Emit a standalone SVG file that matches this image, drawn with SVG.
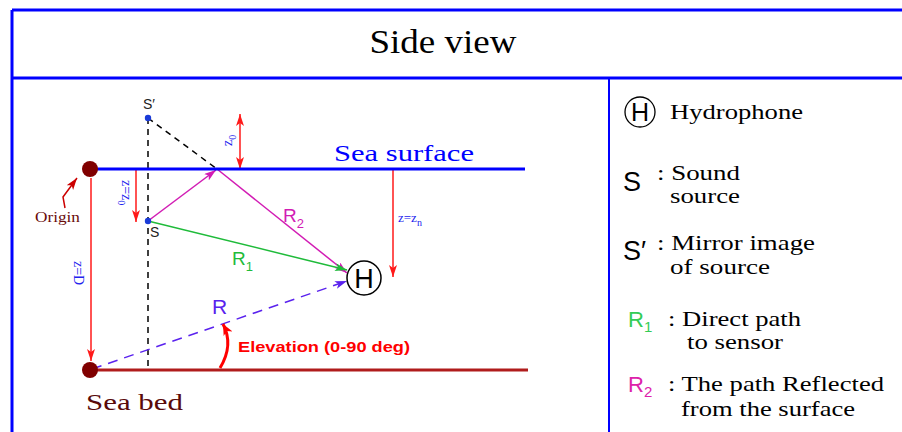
<svg xmlns="http://www.w3.org/2000/svg" width="902" height="432" viewBox="0 0 902 432">
<style>
.frame{stroke:#0000ff;fill:none}
.serif{font-family:"Liberation Serif","Times New Roman",serif}
.sans{font-family:"Liberation Sans",Arial,sans-serif}
.red{stroke:#ff1a1a;fill:none;stroke-width:1.5}
</style>
<defs>
<marker id="ar" markerUnits="userSpaceOnUse" markerWidth="14" markerHeight="10" refX="12" refY="4" orient="auto-start-reverse"><path d="M0,0 L12,4 L0,8 L3,4 z" fill="#ff1a1a"/></marker>
<marker id="ar2" markerUnits="userSpaceOnUse" markerWidth="14" markerHeight="12" refX="11" refY="5" orient="auto"><path d="M0,0 L11,5 L0,10 L3,5 z" fill="#ff0000"/></marker>
<marker id="am" markerUnits="userSpaceOnUse" markerWidth="14" markerHeight="10" refX="12" refY="4" orient="auto"><path d="M0,0 L12,4 L0,8 L3,4 z" fill="#d21cb4"/></marker>
<marker id="ag" markerUnits="userSpaceOnUse" markerWidth="14" markerHeight="10" refX="12" refY="4" orient="auto"><path d="M0,0 L12,4 L0,8 L3,4 z" fill="#1fbb3a"/></marker>
<marker id="av" markerUnits="userSpaceOnUse" markerWidth="14" markerHeight="10" refX="12" refY="4" orient="auto"><path d="M0,0 L12,4 L0,8 L3,4 z" fill="#5a22ee"/></marker>
<marker id="ao" markerUnits="userSpaceOnUse" markerWidth="14" markerHeight="10" refX="12" refY="4" orient="auto"><path d="M0,0 L12,4 L0,8 L3,4 z" fill="#cc0000"/></marker>
</defs>

<g id="frame">
<line class="frame" x1="12" y1="10" x2="902" y2="10" stroke-width="3"/>
<line class="frame" x1="12" y1="10" x2="12" y2="432" stroke-width="3"/>
<line class="frame" x1="12" y1="78" x2="902" y2="78" stroke-width="3"/>
<line class="frame" x1="609" y1="78" x2="609" y2="432" stroke-width="2"/>
<text class="serif" x="443" y="53" font-size="33" text-anchor="middle" textLength="147" lengthAdjust="spacingAndGlyphs">Side view</text>
</g>

<g id="connectors">
<line x1="148" y1="118" x2="148" y2="370" stroke="#000" stroke-width="1.5" stroke-dasharray="6,5"/>
<line x1="148" y1="118" x2="217" y2="169" stroke="#000" stroke-width="1.5" stroke-dasharray="6,5"/>
<line x1="148" y1="221" x2="216" y2="170" stroke="#d21cb4" stroke-width="1.5" marker-end="url(#am)"/>
<line x1="217" y1="169" x2="347" y2="273" stroke="#d21cb4" stroke-width="1.5" marker-end="url(#am)"/>
<line x1="148" y1="221" x2="347" y2="270" stroke="#1fbb3a" stroke-width="1.5" marker-end="url(#ag)"/>
<line x1="92" y1="369" x2="347" y2="281" stroke="#5a22ee" stroke-width="1.5" stroke-dasharray="10,7" marker-end="url(#av)"/>
<line class="red" x1="91" y1="178" x2="91" y2="361" marker-end="url(#ar)"/>
<line class="red" x1="136" y1="169" x2="136" y2="222" marker-end="url(#ar)"/>
<line class="red" x1="240" y1="114" x2="240" y2="169" marker-start="url(#ar)" marker-end="url(#ar)"/>
<line class="red" x1="393" y1="169" x2="393" y2="277" marker-end="url(#ar)"/>
<path d="M220,368 Q234,345 223,324" stroke="#ff0000" stroke-width="3" fill="none" marker-end="url(#ar2)"/>
<path d="M65,208 L63,197 L77,178" stroke="#cc0000" stroke-width="1.5" fill="none" marker-end="url(#ao)"/>
</g>

<g id="sea-surface">
<line x1="90" y1="169" x2="525" y2="169" stroke="#0000ff" stroke-width="3"/>
<text class="serif" x="334" y="161" font-size="24" fill="#0000ff" textLength="140" lengthAdjust="spacingAndGlyphs">Sea surface</text>
</g>

<g id="sea-bed">
<line x1="90" y1="370" x2="528" y2="370" stroke="#b01c1c" stroke-width="3"/>
<text class="serif" x="86" y="410" font-size="24" fill="#5a0a0a" textLength="97" lengthAdjust="spacingAndGlyphs">Sea bed</text>
</g>

<g id="origin">
<circle cx="90" cy="169" r="8" fill="#800000"/>
<text class="serif" x="35" y="222" font-size="14" fill="#6a0a0a" textLength="45" lengthAdjust="spacingAndGlyphs">Origin</text>
</g>

<g id="seabed-point">
<circle cx="90" cy="370" r="8" fill="#800000"/>
</g>

<g id="source-mirror">
<circle cx="148" cy="118" r="3.2" fill="#1a3bd8"/>
<text class="sans" x="143" y="109" font-size="14" fill="#222">S′</text>
</g>

<g id="source">
<circle cx="148" cy="221" r="3.2" fill="#1a3bd8"/>
<text class="sans" x="150" y="237" font-size="14" fill="#222">S</text>
</g>

<g id="hydrophone">
<circle cx="364" cy="278" r="17" fill="#fff" stroke="#000" stroke-width="1.5"/>
<text class="sans" x="364" y="288" font-size="27" text-anchor="middle" fill="#000">H</text>
</g>

<g id="labels">
<text class="sans" x="283" y="222" font-size="19" fill="#d21cb4">R<tspan font-size="13" dy="6">2</tspan></text>
<text class="sans" x="232" y="265" font-size="19" fill="#1fbb3a">R<tspan font-size="13" dy="6">1</tspan></text>
<text class="sans" x="212" y="314" font-size="21" fill="#5a22ee">R</text>
<text class="sans" x="238" y="352" font-size="15" font-weight="bold" fill="#ff0000" textLength="172" lengthAdjust="spacingAndGlyphs">Elevation (0-90 deg)</text>
<text class="serif" x="398" y="222" font-size="13" fill="#2222ee">z=z<tspan font-size="10" dy="4">n</tspan></text>
<text class="serif" transform="translate(74,261) rotate(90)" font-size="14" fill="#2222ee">z=D</text>
<text class="serif" transform="translate(122,180) rotate(90)" font-size="14" fill="#2222ee">z=z<tspan font-size="10" dy="4">0</tspan></text>
<text class="serif" transform="translate(232,146) rotate(-90)" font-size="14" fill="#2222ee">z<tspan font-size="10" dy="4">0</tspan></text>
</g>

<g id="legend">
<circle cx="640" cy="112" r="15" fill="none" stroke="#000" stroke-width="1.3"/>
<text class="sans" x="640" y="121" font-size="25" text-anchor="middle">H</text>
<text class="serif" x="670" y="119" font-size="22" textLength="133" lengthAdjust="spacingAndGlyphs">Hydrophone</text>

<text class="sans" x="623" y="191" font-size="27">S</text>
<text class="serif" x="657" y="180" font-size="22" textLength="83" lengthAdjust="spacingAndGlyphs">: Sound</text>
<text class="serif" x="670" y="203" font-size="22" textLength="70" lengthAdjust="spacingAndGlyphs">source</text>

<text class="sans" x="623" y="260" font-size="27">S′</text>
<text class="serif" x="657" y="250" font-size="22" textLength="158" lengthAdjust="spacingAndGlyphs">: Mirror image</text>
<text class="serif" x="670" y="274" font-size="22" textLength="100" lengthAdjust="spacingAndGlyphs">of source</text>

<text class="sans" x="628" y="327" font-size="22" fill="#33cc55">R<tspan font-size="15" dy="5">1</tspan></text>
<text class="serif" x="668" y="326" font-size="22" textLength="133" lengthAdjust="spacingAndGlyphs">: Direct path</text>
<text class="serif" x="687" y="349" font-size="22" textLength="96" lengthAdjust="spacingAndGlyphs">to sensor</text>

<text class="sans" x="628" y="392" font-size="22" fill="#dd22aa">R<tspan font-size="15" dy="5">2</tspan></text>
<text class="serif" x="668" y="391" font-size="22" textLength="216" lengthAdjust="spacingAndGlyphs">: The path Reflected</text>
<text class="serif" x="681" y="416" font-size="22" textLength="174" lengthAdjust="spacingAndGlyphs">from the surface</text>
</g>
</svg>
